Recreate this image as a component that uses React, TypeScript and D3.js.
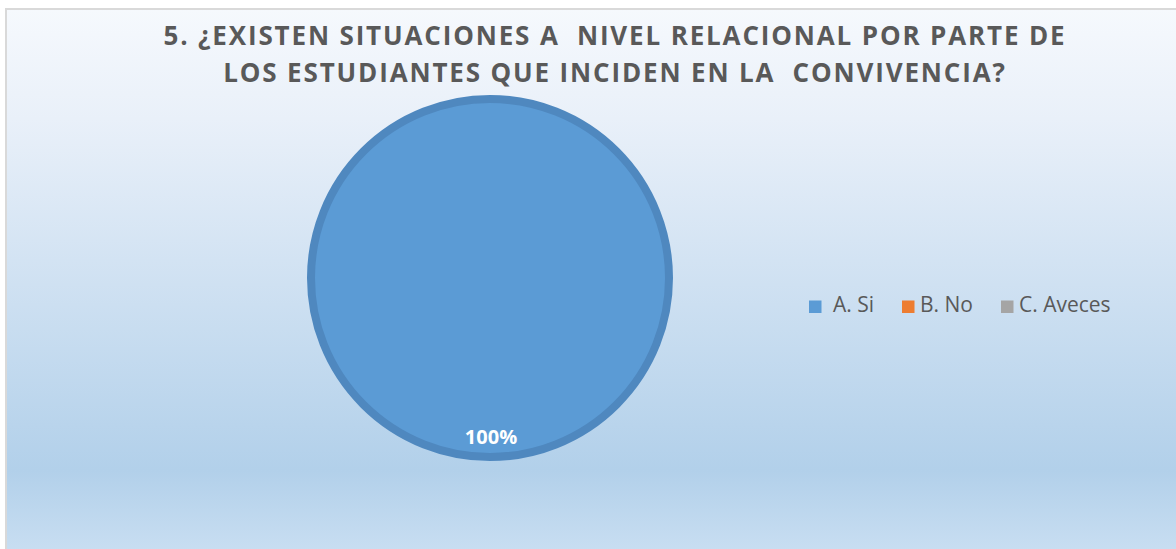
import React from "react";
import * as d3 from "d3";

const categories = ["A. Si", "B. No", "C. Aveces"];
const values = [100, 0, 0];
const colors = ["#5b9bd5", "#ed7d31", "#a5a5a5"];
const titleLines = [
  "5. ¿EXISTEN SITUACIONES A  NIVEL RELACIONAL POR PARTE DE",
  "LOS ESTUDIANTES QUE INCIDEN EN LA  CONVIVENCIA?",
];

export default function App() {
  const W = 1176, H = 549;
  const cx = 490, cy = 278, r = 183;
  const pie = d3.pie<number>().sort(null).value((d) => d);
  const arcs = pie(values);
  const arcGen = d3.arc<d3.PieArcDatum<number>>().innerRadius(0).outerRadius(r - 4);
  const total = d3.sum(values);
  const legendX = [809, 902, 1001];
  const textX = [833, 920, 1019];
  return (
    <svg width={W} height={H} style={{ position: "absolute", left: 0, top: 0 }}
      fontFamily="'Open Sans', sans-serif">
      <defs>
        <linearGradient id="bg" x1="0" y1="0" x2="0" y2="1">
          <stop offset="0" stopColor="#f6f9fd" />
          <stop offset="0.2" stopColor="#e9f0f9" />
          <stop offset="0.84" stopColor="#b2d0ea" />
          <stop offset="1" stopColor="#cadff2" />
        </linearGradient>
      </defs>
      <rect x={0} y={0} width={W} height={H} fill="#ffffff" />
      <rect x={6} y={9} width={W + 10} height={H} fill="url(#bg)" stroke="#d9d9d9" strokeWidth={2} />
      {titleLines.map((t, i) => (
        <text key={i} x={615} y={45 + i * 37} textAnchor="middle" fontSize={26} fontWeight="bold"
          fill="#595959" letterSpacing={1.85} style={{ whiteSpace: "pre" }}>
          {t}
        </text>
      ))}
      <g transform={`translate(${cx},${cy})`}>
        {arcs.map((a, i) =>
          a.value > 0 ? (
            <path key={i} d={arcGen(a) || ""} fill={colors[i]} stroke="#4f88bf" strokeWidth={8} />
          ) : null
        )}
        {arcs.map((a, i) =>
          a.value > 0 ? (
            <text key={"l" + i} x={1} y={166} textAnchor="middle" fontSize={20} fontWeight="bold" fill="#ffffff">
              {d3.format(".0%")(a.value / total)}
            </text>
          ) : null
        )}
      </g>
      {categories.map((c, i) => (
        <g key={c}>
          <rect x={legendX[i]} y={300.5} width={12.5} height={12.5} fill={colors[i]} />
          <text x={textX[i]} y={312} fontSize={21} fill="#595959">
            {c}
          </text>
        </g>
      ))}
    </svg>
  );
}
